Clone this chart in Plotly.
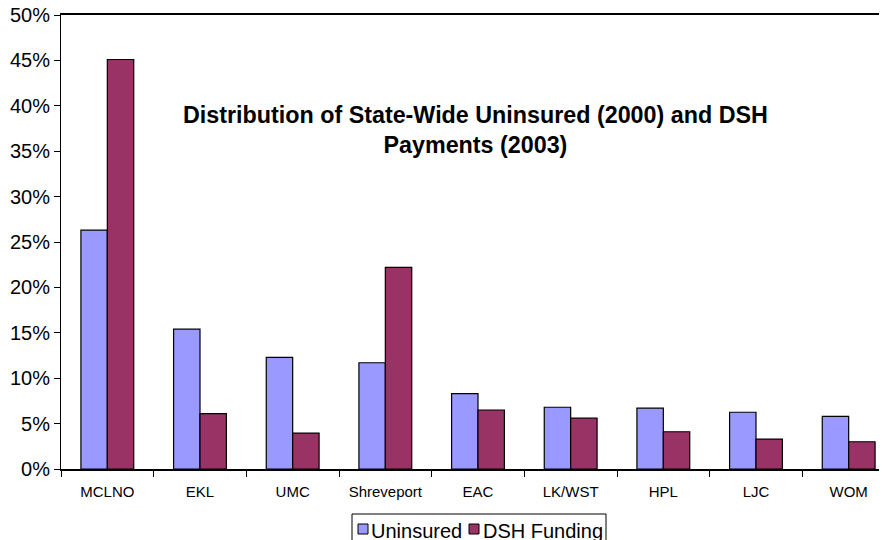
import plotly.graph_objects as go

categories = ["MCLNO", "EKL", "UMC", "Shreveport", "EAC", "LK/WST", "HPL", "LJC", "WOM"]
uninsured = [26.3, 15.4, 12.3, 11.7, 8.3, 6.8, 6.7, 6.25, 5.8]
dsh_funding = [45.1, 6.1, 3.95, 22.2, 6.5, 5.6, 4.1, 3.3, 3.0]
y_ticks = [0, 5, 10, 15, 20, 25, 30, 35, 40, 45, 50]
y_tick_labels = [f"{v}%" for v in y_ticks]
series_names = ["Uninsured", "DSH Funding"]
series_colors = ["#9999FF", "#993366"]

font_family = "Liberation Sans, Arial, sans-serif"

# page has an 8px body margin: figure pixel = page pixel - 8
OFF = 8
W, H = 887, 540
# plot area in page pixels: x 61..895, y 15..469
PL, PR, PT, PB = 61 - OFF, 895 - OFF, 15 - OFF, 469 - OFF
def px(x):
    return (x - OFF - PL) / (PR - PL)
def py(y):
    return (PB - (y - OFF)) / (PB - PT)

fig = go.Figure()
for name, vals, col in zip(series_names, [uninsured, dsh_funding], series_colors):
    fig.add_trace(go.Bar(x=categories, y=vals, name=name,
                         marker=dict(color=col, line=dict(color="black", width=1.2))))

shapes = [dict(type="rect", xref="paper", yref="paper",
               x0=px(352), x1=px(606), y0=py(552), y1=py(514),
               line=dict(color="black", width=1), fillcolor="white", layer="above")]
annotations = [dict(text="<b>Distribution of State-Wide Uninsured (2000) and DSH<br>Payments (2003)</b>",
                    x=px(475), y=py(130), xref="paper", yref="paper",
                    xanchor="center", yanchor="middle",
                    showarrow=False, font=dict(size=23.3))]
legend_pos = [(358, 370), (469, 482)]
for (sx, tx), name, col in zip(legend_pos, series_names, series_colors):
    shapes.append(dict(type="rect", xref="paper", yref="paper",
                       x0=px(sx), x1=px(sx + 10), y0=py(534), y1=py(524),
                       line=dict(color="black", width=1), fillcolor=col, layer="above"))
    annotations.append(dict(text=name, x=px(tx), y=py(531), xref="paper", yref="paper",
                            xanchor="left", yanchor="middle", showarrow=False,
                            font=dict(size=20), borderpad=0))

fig.update_layout(
    width=W, height=H,
    margin=dict(l=PL, r=W - PR, t=PT, b=H - PB, autoexpand=False),
    paper_bgcolor="white", plot_bgcolor="white",
    barmode="group", bargap=0.43, bargroupgap=0,
    font=dict(family=font_family, color="black"),
    showlegend=False,
    shapes=shapes,
    annotations=annotations,
)

fig.update_xaxes(type="category", range=[-0.5, 8.5], showline=True, linecolor="black", linewidth=2,
                 mirror=True, ticks="outside", tickson="boundaries", ticklen=6, tickcolor="black",
                 tickfont=dict(size=15), ticklabelstandoff=8, showgrid=False, automargin=False)
fig.update_yaxes(range=[0, 50], tickvals=y_ticks, ticktext=y_tick_labels, showline=True,
                 linecolor="black", linewidth=1, ticks="outside", ticklen=6, tickcolor="black",
                 tickfont=dict(size=20), ticklabeloverflow="allow", showgrid=False,
                 zeroline=False, automargin=False)

fig.write_html("out.html")
